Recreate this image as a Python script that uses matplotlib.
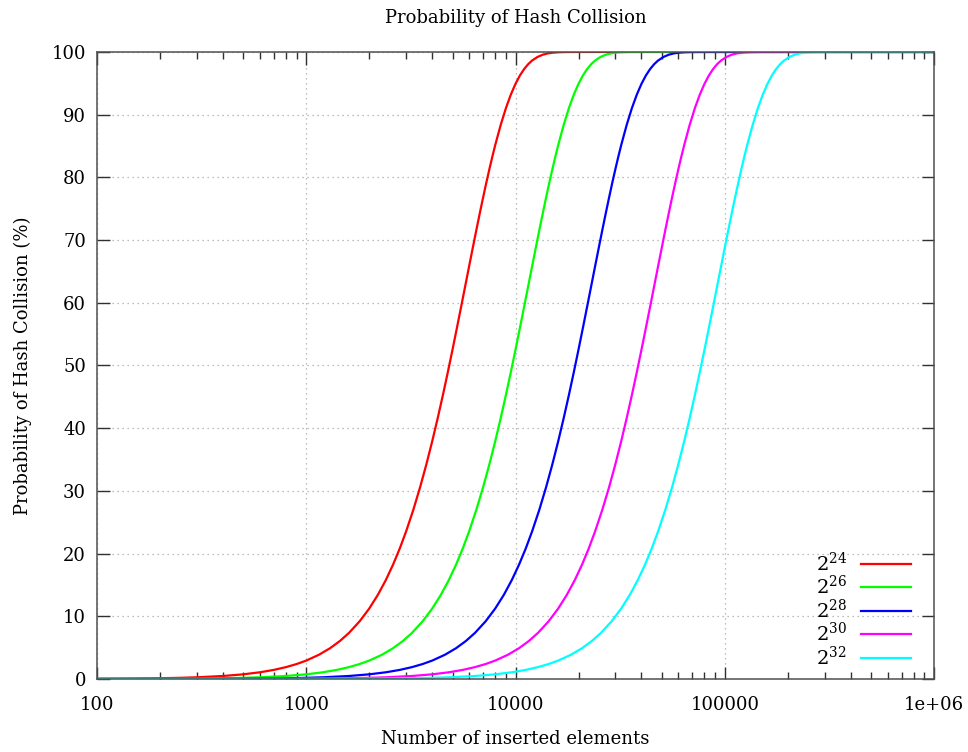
import matplotlib.pyplot as plt

plt.rcParams['font.family'] = ['DejaVu Serif']
plt.rcParams['mathtext.fontset'] = 'dejavuserif'

labels = ['$2^{24}$', '$2^{26}$', '$2^{28}$', '$2^{30}$', '$2^{32}$']
colors = ['#ff0000', '#00ff00', '#0000ff', '#ff00ff', '#00ffff']

# collision levels (%) and the number of inserted elements at which each curve reaches them
levels = [0.0, 0.001, 0.030, 0.067, 0.119, 0.186, 0.268, 0.476, 0.742, 1.067, 1.450,
          1.889, 2.385, 2.936, 3.865, 4.912, 6.074, 7.346, 9.204, 11.238, 13.432,
          15.774, 18.247, 20.835, 23.527, 27.003, 30.585, 34.235, 37.925, 41.626,
          45.310, 48.953, 52.528, 56.019, 59.405, 62.669, 65.798, 68.781, 71.611,
          74.279, 76.784, 79.122, 81.295, 83.304, 85.153, 88.389, 91.054, 93.210,
          94.922, 96.259, 97.284, 98.058, 98.632, 99.213, 99.562, 99.765, 99.878,
          99.951, 99.982, 99.996, 100.0, 100.0, 100.0]

x_24 = [10, 18, 100, 150, 200, 250, 300, 400, 500, 600, 700, 800, 900, 1000, 1150,
        1300, 1450, 1600, 1800, 2000, 2200, 2400, 2600, 2800, 3000, 3250, 3500, 3750,
        4000, 4250, 4500, 4750, 5000, 5250, 5500, 5750, 6000, 6250, 6500, 6750, 7000,
        7250, 7500, 7750, 8000, 8500, 9000, 9500, 10000, 10500, 11000, 11500, 12000,
        12750, 13500, 14250, 15000, 16000, 17000, 18500, 20000, 25000, 1000000]

x_26 = [10, 37, 200, 300, 400, 500, 600, 800, 1000, 1200, 1400, 1600, 1800, 2000,
        2300, 2600, 2900, 3200, 3600, 4000, 4400, 4800, 5200, 5600, 6000, 6500, 7000,
        7500, 8000, 8500, 9000, 9500, 10000, 10500, 11000, 11500, 12000, 12500, 13000,
        13500, 14000, 14500, 15000, 15500, 16000, 17000, 18000, 19000, 20000, 21000,
        22000, 23000, 24000, 25500, 27000, 28500, 30000, 32000, 34000, 37000, 40000,
        50000, 1000000]

x_28 = [10, 73, 400, 600, 800, 1000, 1200, 1600, 2000, 2400, 2800, 3200, 3600, 4000,
        4600, 5200, 5800, 6400, 7200, 8000, 8800, 9600, 10400, 11200, 12000, 13000,
        14000, 15000, 16000, 17000, 18000, 19000, 20000, 21000, 22000, 23000, 24000,
        25000, 26000, 27000, 28000, 29000, 30000, 31000, 32000, 34000, 36000, 38000,
        40000, 42000, 44000, 46000, 48000, 51000, 54000, 57000, 60000, 64000, 68000,
        74000, 80000, 100000, 1000000]

x_30 = [10, 147, 800, 1200, 1600, 2000, 2400, 3200, 4000, 4800, 5600, 6400, 7200,
        8000, 9200, 10400, 11600, 12800, 14400, 16000, 17600, 19200, 20800, 22400,
        24000, 26000, 28000, 30000, 32000, 34000, 36000, 38000, 40000, 42000, 44000,
        46000, 48000, 50000, 52000, 54000, 56000, 58000, 60000, 62000, 64000, 68000,
        72000, 76000, 80000, 84000, 88000, 92000, 96000, 102000, 108000, 114000,
        120000, 128000, 136000, 148000, 160000, 200000, 1000000]

x_32 = [10, 293, 1600, 2400, 3200, 4000, 4800, 6400, 8000, 9600, 11200, 12800, 14400,
        16000, 18400, 20800, 23200, 25600, 28800, 32000, 35200, 38400, 41600, 44800,
        48000, 52000, 56000, 60000, 64000, 68000, 72000, 76000, 80000, 84000, 88000,
        92000, 96000, 100000, 104000, 108000, 112000, 116000, 120000, 124000, 128000,
        136000, 144000, 152000, 160000, 168000, 176000, 184000, 192000, 204000,
        216000, 228000, 240000, 256000, 272000, 296000, 320000, 400000, 1000000]

xs = [x_24, x_26, x_28, x_30, x_32]
xticks = [100, 1000, 10000, 100000, 1000000]
xticklabels = ['100', '1000', '10000', '100000', '1e+06']
yticks = [0, 10, 20, 30, 40, 50, 60, 70, 80, 90, 100]

fig = plt.figure(figsize=(9.68, 7.52), dpi=100)
ax = fig.add_axes([0.1002, 0.0971, 0.8647, 0.8338])

for x, lab, c in zip(xs, labels, colors):
    ax.plot(x, levels, color=c, lw=1.6, label=lab)

ax.set_xscale('log')
ax.set_xlim(100, 1000000)
ax.set_ylim(0, 100)
ax.set_xticks(xticks)
ax.set_xticklabels(xticklabels)
ax.set_yticks(yticks)
ax.grid(True, which='major', color='#a8a8a8', linestyle=(0, (1, 3)), lw=0.9)

for s in ax.spines.values():
    s.set_color('#505050')
    s.set_linewidth(1.1)
ax.tick_params(which='both', direction='in', top=True, right=True, color='#303030',
               labelsize=13)
ax.tick_params(axis='x', pad=12)
ax.tick_params(axis='y', pad=8)
ax.tick_params(which='major', length=9, width=1)
ax.tick_params(which='minor', length=5, width=1)

ax.set_title('Probability of Hash Collision', fontsize=13, pad=21)
ax.set_xlabel('Number of inserted elements', fontsize=13, labelpad=12)
ax.set_ylabel('Probability of Hash Collision (%)', fontsize=13, labelpad=14)

ax.legend(loc='lower right', bbox_to_anchor=(0.982, 0.004), frameon=False,
          markerfirst=False, fontsize=14, handlelength=2.6, handletextpad=0.7,
          labelspacing=0.02, borderaxespad=0)

fig.savefig('out.png', dpi=100)
